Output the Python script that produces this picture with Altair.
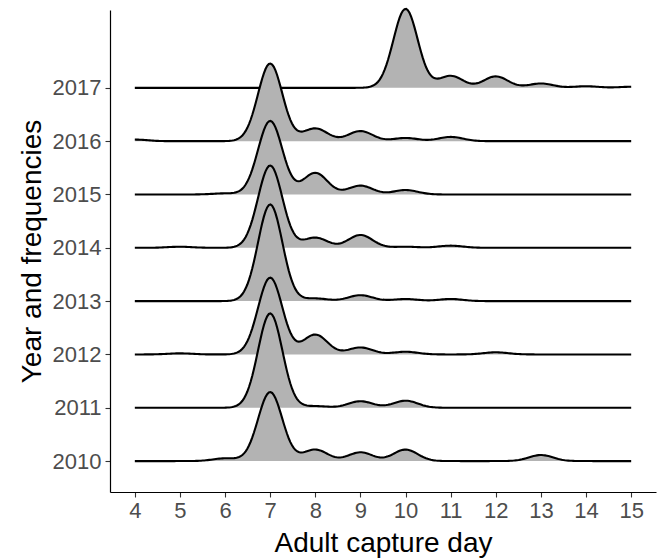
import altair as alt
import pandas as pd

# Capture days (x) and years (ridges)
days = [4, 5, 6, 7, 8, 9, 10, 11, 12, 13, 14, 15]
years = [2010, 2011, 2012, 2013, 2014, 2015, 2016, 2017]

# Frequencies of captures per day (days 4..15), one list per year
freq_2010 = [0, 0, 5, 126, 21, 16, 21, 0, 0, 11, 0, 0]
freq_2011 = [0, 0, 0, 174, 3, 12, 13, 0, 0, 0, 0, 0]
freq_2012 = [0, 2, 0, 143, 37, 13, 5, 0, 4, 0, 0, 0]
freq_2013 = [0, 0, 0, 180, 5, 11, 4, 4, 0, 0, 0, 0]
freq_2014 = [0, 2, 0, 154, 19, 24, 2, 4, 0, 0, 0, 0]
freq_2015 = [0, 0, 2, 133, 39, 16, 8, 0, 0, 0, 0, 0]
freq_2016 = [3, 0, 0, 146, 24, 19, 6, 8, 0, 0, 0, 0]
freq_2017 = [0, 0, 0, 0, 0, 0, 145, 22, 21, 8, 3, 2]

freqs = [freq_2010, freq_2011, freq_2012, freq_2013,
         freq_2014, freq_2015, freq_2016, freq_2017]

rows = []
for yr, fl in zip(years, freqs):
    for d, n in zip(days, fl):
        rows.extend([{"year": yr, "day": d}] * n)
df = pd.DataFrame(rows)

SCALE = 1.39      # ridge height per density unit (in year units)
BW = 0.27         # joint KDE bandwidth (days)

xscale = alt.Scale(domain=[3.45, 15.55], nice=False, zero=False)
yscale = alt.Scale(domain=[2009.42, 2018.46], nice=False, zero=False)

common_axis = dict(
    grid=False, labelFontSize=22, labelColor="#4D4D4D",
    labelFont="Liberation Sans", titleFont="Liberation Sans",
    titleFontSize=28, titleFontWeight="normal", titleColor="black",
    tickColor="#333333", tickSize=5, tickWidth=1.1,
    domainColor="black", domainWidth=1.2,
)
xaxis = alt.Axis(values=days, format="d", title="Adult capture day",
                 labelPadding=3, titlePadding=8, **common_axis)
yaxis = alt.Axis(values=years, format="d", title="Year and frequencies",
                 labelPadding=4, titlePadding=6, **common_axis)

X = alt.X("value:Q", scale=xscale, axis=xaxis)
Y = alt.Y("top:Q", scale=yscale, axis=yaxis)

layers = []
for yr in sorted(years, reverse=True):
    area = alt.Chart().mark_area(fill="#B3B3B3", opacity=1).encode(
        x=X, y=Y, y2=alt.Y2("base"),
    ).transform_filter(alt.datum.year == yr)
    line = alt.Chart().mark_line(color="black", strokeWidth=2.1).encode(
        x=X, y=Y,
    ).transform_filter(alt.datum.year == yr)
    layers += [area, line]

chart = alt.layer(*layers, data=df).transform_density(
    density="day", groupby=["year"], bandwidth=BW, extent=[4, 15], steps=300
).transform_calculate(
    top=f"datum.year + datum.density * {SCALE}",
    base="datum.year",
).properties(
    width=546, height=482,
    padding={"left": 110, "top": 10, "right": 8, "bottom": 67},
    autosize=alt.AutoSizeParams(type="none"),
    background="white",
).configure_view(stroke=None)

chart.save("out.html", embed_options={"renderer": "svg", "actions": False})
